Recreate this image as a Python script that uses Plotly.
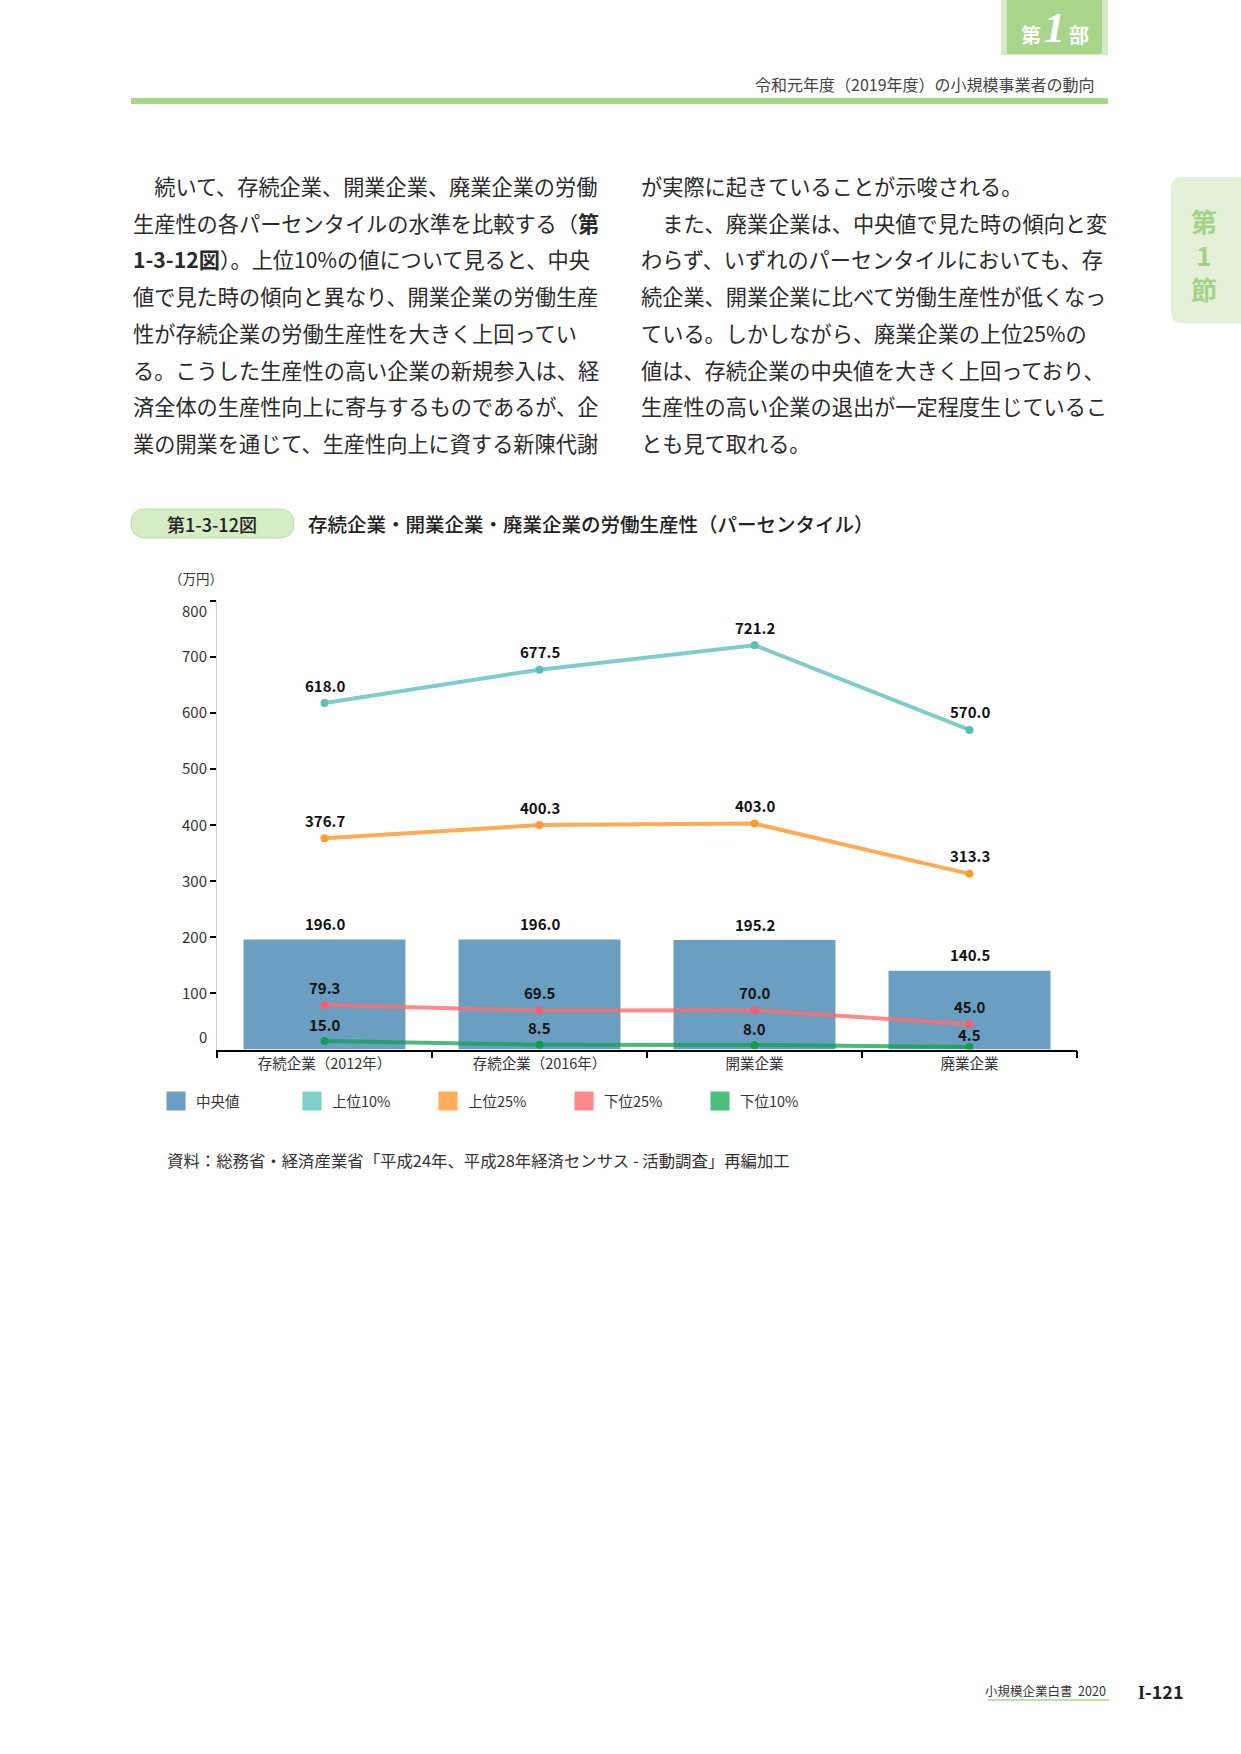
import plotly.graph_objects as go

W, H = 1241, 1754
FONT = "Noto Sans CJK JP"

# ---------------- data ----------------
categories = ["存続企業（2012年）", "存続企業（2016年）", "開業企業", "廃業企業"]
median = [196.0, 196.0, 195.2, 140.5]
top10 = [618.0, 677.5, 721.2, 570.0]
top25 = [376.7, 400.3, 403.0, 313.3]
bottom25 = [79.3, 69.5, 70.0, 45.0]
bottom10 = [15.0, 8.5, 8.0, 4.5]
y_ticks = [100, 200, 300, 400, 500, 600, 700, 800]
y_ticktext = ["100", "200", "300", "400", "500", "600", "700", ""]

legend_names = ["中央値", "上位10%", "上位25%", "下位25%", "下位10%"]

left_lines = [
    "　続いて、存続企業、開業企業、廃業企業の労働",
    "生産性の各パーセンタイルの水準を比較する（<b>第</b>",
    "<b>1-3-12図</b>）。上位10%の値について見ると、中央",
    "値で見た時の傾向と異なり、開業企業の労働生産",
    "性が存続企業の労働生産性を大きく上回ってい",
    "る。こうした生産性の高い企業の新規参入は、経",
    "済全体の生産性向上に寄与するものであるが、企",
    "業の開業を通じて、生産性向上に資する新陳代謝",
]
right_lines = [
    "が実際に起きていることが示唆される。",
    "　また、廃業企業は、中央値で見た時の傾向と変",
    "わらず、いずれのパーセンタイルにおいても、存",
    "続企業、開業企業に比べて労働生産性が低くなっ",
    "ている。しかしながら、廃業企業の上位25%の",
    "値は、存続企業の中央値を大きく上回っており、",
    "生産性の高い企業の退出が一定程度生じているこ",
    "とも見て取れる。",
]

# ---------------- styles ----------------
BAR_COLOR = "#6a9fc2"
line_styles = [
    # (values, line color, marker color)
    (top10, "rgba(95,192,186,0.8)", "#5bbfb8"),
    (top25, "rgba(255,149,42,0.8)", "#ff9a30"),
    (bottom25, "rgba(255,109,109,0.8)", "#f0606e"),
    (bottom10, "rgba(16,160,80,0.75)", "#10a050"),
]
legend_colors = ["#6a9fc2", "#7fcfca", "#ffad5a", "#ff898a", "#4cbf7c"]


def X(px):
    return px / W


def Y(py):
    return 1 - py / H


fig = go.Figure()

fig.add_trace(go.Bar(x=categories, y=median, marker_color=BAR_COLOR, marker_line_width=0,
                     width=0.753, showlegend=False, hoverinfo="skip"))
for vals, lc, mc in line_styles:
    fig.add_trace(go.Scatter(x=categories, y=vals, mode="lines+markers",
                             line=dict(color=lc, width=4),
                             marker=dict(color=mc, size=8),
                             showlegend=False, hoverinfo="skip"))

# legend dummies (square swatches)
for name, col in zip(legend_names, legend_colors):
    fig.add_trace(go.Scatter(x=[None], y=[None], mode="markers", name=name,
                             marker=dict(symbol="square", size=16, color=col,
                                         line=dict(color=col, width=3))))

annotations = []

# data labels
label_sets = [(median, 16), (top10, 18), (top25, 18), (bottom25, 18), (bottom10, 17)]
for vals, shift in label_sets:
    for i, (c, v) in enumerate(zip(categories, vals)):
        s = shift
        if vals is bottom10 and i == 3:
            s = 12
        annotations.append(dict(x=c, y=v, xref="x", yref="y", text=f"{v:.1f}",
                                showarrow=False, yanchor="middle", yshift=s,
                                font=dict(family=FONT, size=15, color="#111", weight="bold")))

# y-axis end labels (0 and 800 drawn inward)
annotations.append(dict(x=X(209), y=0, xref="paper", yref="y", text="0", showarrow=False,
                        xanchor="right", yanchor="middle", yshift=13,
                        font=dict(family=FONT, size=15, color="#333")))
annotations.append(dict(x=X(209), y=800, xref="paper", yref="y", text="800", showarrow=False,
                        xanchor="right", yanchor="middle", yshift=-9,
                        font=dict(family=FONT, size=15, color="#333")))
annotations.append(dict(x=X(196), y=Y(578), xref="paper", yref="paper", text="（万円）",
                        showarrow=False, xanchor="center", yanchor="middle",
                        font=dict(family=FONT, size=13.5, color="#333")))

# body text
line_y = [185.5, 222.2, 258.9, 295.6, 332.3, 369.0, 405.7, 442.4]
for txt, yy in zip(left_lines, line_y):
    annotations.append(dict(x=X(131), y=Y(yy), xref="paper", yref="paper", text=txt,
                            showarrow=False, xanchor="left", yanchor="middle",
                            font=dict(family=FONT, size=21.2, color="#2a2a2a")))
for txt, yy in zip(right_lines, line_y):
    annotations.append(dict(x=X(639), y=Y(yy), xref="paper", yref="paper", text=txt,
                            showarrow=False, xanchor="left", yanchor="middle",
                            font=dict(family=FONT, size=21.2, color="#2a2a2a")))

# header
annotations.append(dict(x=X(1097), y=Y(84), xref="paper", yref="paper",
                        text="令和元年度（2019年度）の小規模事業者の動向", showarrow=False,
                        xanchor="right", yanchor="middle",
                        font=dict(family=FONT, size=16, color="#444")))
annotations.append(dict(x=X(1031), y=Y(35), xref="paper", yref="paper", text="第",
                        showarrow=False, xanchor="center", yanchor="middle",
                        font=dict(family=FONT, size=20, color="white", weight="bold")))
annotations.append(dict(x=X(1054), y=Y(28), xref="paper", yref="paper", text="<i>1</i>",
                        showarrow=False, xanchor="center", yanchor="middle",
                        font=dict(family="Liberation Serif", size=42, color="white", weight="bold")))
annotations.append(dict(x=X(1079), y=Y(35), xref="paper", yref="paper", text="部",
                        showarrow=False, xanchor="center", yanchor="middle",
                        font=dict(family=FONT, size=20, color="white", weight="bold")))

# right tab (single vertical block)
annotations.append(dict(x=X(1204), y=Y(254), xref="paper", yref="paper", text="第<br>1<br>節",
                        showarrow=False, xanchor="center", yanchor="middle", align="center",
                        font=dict(family=FONT, size=26, color="#a3d386", weight="bold")))

# chart title
annotations.append(dict(x=X(212), y=Y(523.5), xref="paper", yref="paper", text="第1-3-12図",
                        showarrow=False, xanchor="center", yanchor="middle",
                        font=dict(family=FONT, size=18, color="#222", weight=500)))
annotations.append(dict(x=X(306), y=Y(523.5), xref="paper", yref="paper",
                        text="存続企業・開業企業・廃業企業の労働生産性（パーセンタイル）",
                        showarrow=False, xanchor="left", yanchor="middle",
                        font=dict(family=FONT, size=19.5, color="#222", weight=500)))

# source
annotations.append(dict(x=X(165), y=Y(1160), xref="paper", yref="paper",
                        text="資料：総務省・経済産業省「平成24年、平成28年経済センサス - 活動調査」再編加工",
                        showarrow=False, xanchor="left", yanchor="middle",
                        font=dict(family=FONT, size=16.4, color="#333")))

# footer
annotations.append(dict(x=X(1108), y=Y(1690), xref="paper", yref="paper",
                        text="小規模企業白書  2020", showarrow=False, xanchor="right", yanchor="middle",
                        font=dict(family=FONT, size=12.5, color="#333")))
annotations.append(dict(x=X(1136), y=Y(1691), xref="paper", yref="paper",
                        text="<span style='font-family:Liberation Serif'>I</span>-121",
                        showarrow=False, xanchor="left", yanchor="middle",
                        font=dict(family=FONT, size=18, color="#222", weight="bold")))

shapes = [
    # header box
    dict(type="rect", xref="paper", yref="paper", x0=X(1001), x1=X(1108), y0=Y(55), y1=Y(0),
         fillcolor="#d5ebc6", line_width=0, layer="below"),
    dict(type="rect", xref="paper", yref="paper", x0=X(1007), x1=X(1102), y0=Y(54), y1=Y(0),
         fillcolor="#a8d58a", line_width=0, layer="below"),
    # header rule
    dict(type="rect", xref="paper", yref="paper", x0=X(131), x1=X(1108), y0=Y(104), y1=Y(98),
         fillcolor="#a8d58a", line_width=0, layer="below"),
    # right tab
    dict(type="path", xref="paper", yref="paper",
         path=f"M {X(1241)} {Y(177)} L {X(1183)} {Y(177)} Q {X(1171)} {Y(177)} {X(1171)} {Y(189)} "
              f"L {X(1171)} {Y(311)} Q {X(1171)} {Y(323)} {X(1183)} {Y(323)} L {X(1241)} {Y(323)} Z",
         fillcolor="#e3f1d8", line_width=0, layer="below"),
    # title pill
    dict(type="path", xref="paper", yref="paper",
         path=f"M {X(146)} {Y(509)} L {X(279)} {Y(509)} Q {X(294)} {Y(509)} {X(294)} {Y(523.5)} "
              f"Q {X(294)} {Y(538)} {X(279)} {Y(538)} L {X(146)} {Y(538)} Q {X(131)} {Y(538)} {X(131)} {Y(523.5)} "
              f"Q {X(131)} {Y(509)} {X(146)} {Y(509)} Z",
         fillcolor="#d5ecc5", line=dict(color="#bcdfa6", width=1), layer="below"),
    # footer underline
    dict(type="line", xref="paper", yref="paper", x0=X(988), x1=X(1109), y0=Y(1700), y1=Y(1700),
         line=dict(color="#a8d58a", width=1.5)),
]

fig.update_layout(
    width=W, height=H,
    margin=dict(l=0, r=0, t=0, b=0),
    paper_bgcolor="white", plot_bgcolor="white",
    font=dict(family=FONT, color="#333"),
    barmode="overlay",
    showlegend=True,
    legend=dict(orientation="h", x=X(156), y=Y(1101), xanchor="left", yanchor="middle",
                font=dict(family=FONT, size=14.5, color="#333"), itemsizing="trace",
                entrywidth=91, entrywidthmode="pixels", bgcolor="rgba(0,0,0,0)",
                itemclick=False, itemdoubleclick=False),
    xaxis=dict(type="category", domain=[X(217), X(1077)], showline=True, linecolor="black",
               linewidth=1.5, ticks="outside", tickson="boundaries", ticklen=7, tickcolor="black",
               tickwidth=1.5, showgrid=False, zeroline=False,
               tickfont=dict(family=FONT, size=14.5, color="#333"), anchor="y"),
    yaxis=dict(range=[0, 800], domain=[1 - 1049.5 / H, 1 - 601 / H], showline=True,
               linecolor="#cccccc", linewidth=1, ticks="outside", ticklen=6, tickcolor="black",
               tickwidth=1.5, tickvals=y_ticks, ticktext=y_ticktext, showgrid=False,
               zeroline=False, tickfont=dict(family=FONT, size=15, color="#333"), anchor="x"),
    annotations=annotations,
    shapes=shapes,
)

fig.write_html("out.html")
